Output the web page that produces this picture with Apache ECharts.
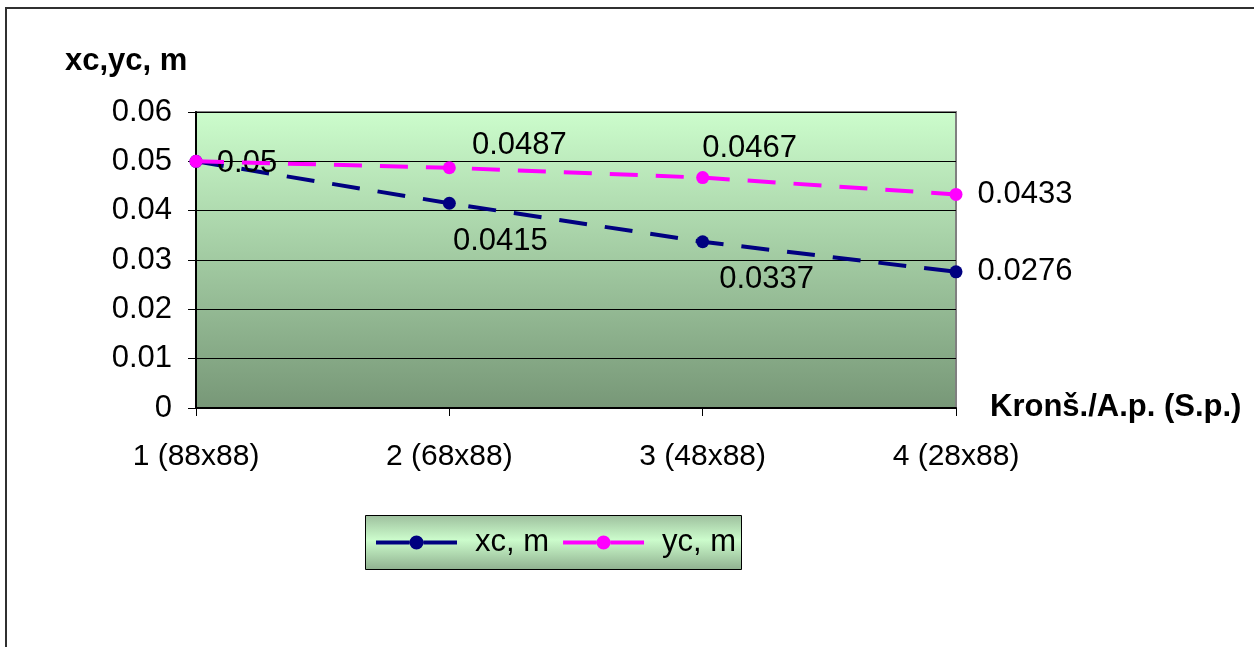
<!DOCTYPE html>
<html>
<head>
<meta charset="utf-8">
<script src="https://cdn.jsdelivr.net/npm/echarts@6/dist/echarts.min.js"></script>
<style>
  html, body { margin: 0; padding: 0; background: #fff; }
  #chart { width: 1254px; height: 647px; }
</style>
</head>
<body>
<div id="chart"></div>
<script>
// Bracket variants along the x axis
const categories = ['1 (88x88)', '2 (68x88)', '3 (48x88)', '4 (28x88)'];

// Centre coordinates, m
const xcValues = [0.05, 0.0415, 0.0337, 0.0276];
const ycValues = [0.05, 0.0487, 0.0467, 0.0433];

// Which points carry a value label
const xcShowLabel = [true, true, true, true];
const ycShowLabel = [false, true, true, true];

// Label offsets (px) from each marker centre to the label centre
const xcLabelOffsets = [[51, 2], [51, 38], [64, 38], [69, 0]];
const ycLabelOffsets = [[0, 0], [70, -22], [47, -29], [69, 0]];

const yTicks = { min: 0, max: 0.06, interval: 0.01 };

const FONT = 'Liberation Sans, Arial, sans-serif';
const FS = 31;

// Legend key: solid line with a round marker in the middle (81 x 14)
const LEGEND_ICON = 'path://M0,5H33.5V9H0Z M47.5,5H81V9H47.5Z ' +
  'M33.5,7a7,7 0 1,0 14,0a7,7 0 1,0 -14,0Z';

function pointData(values, show, offsets) {
  return values.map((v, i) => ({
    value: v,
    label: {
      show: show[i],
      position: 'inside',
      offset: offsets[i],
      formatter: String(v),
      color: '#000',
      fontFamily: FONT,
      fontSize: FS
    }
  }));
}

const chart = echarts.init(document.getElementById('chart'), null, { renderer: 'canvas' });

chart.setOption({
  animation: false,
  backgroundColor: '#ffffff',
  textStyle: { fontFamily: FONT },
  graphic: [
    {
      type: 'rect', z: 0, silent: true,
      shape: { x: 6, y: 8, width: 1400, height: 800 },
      style: { fill: 'none', stroke: '#303030', lineWidth: 2 }
    },
    {
      type: 'rect', z: 0, silent: true,
      shape: { x: 365.5, y: 515.5, width: 376, height: 54 },
      style: {
        stroke: '#000', lineWidth: 1,
        fill: new echarts.graphic.LinearGradient(0, 0, 0, 1, [
          { offset: 0, color: '#9dbf9d' },
          { offset: 0.45, color: '#ccfccc' },
          { offset: 1, color: '#8fb08f' }
        ])
      }
    },
    {
      type: 'text', z: 5, silent: true,
      left: 65, top: 46,
      style: { text: 'xc,yc, m', fontFamily: FONT, fontSize: FS, fontWeight: 'bold', fill: '#000' }
    },
    {
      type: 'text', z: 5, silent: true,
      left: 990, top: 392,
      style: { text: 'Kronš./A.p. (S.p.)', fontFamily: FONT, fontSize: FS, fontWeight: 'bold', fill: '#000' }
    }
  ],
  grid: {
    left: 196, top: 112, width: 760, height: 296,
    show: true,
    borderColor: '#808080',
    borderWidth: 2,
    backgroundColor: new echarts.graphic.LinearGradient(0, 0, 0, 1, [
      { offset: 0, color: '#ccfdcc' },
      { offset: 1, color: '#779777' }
    ])
  },
  legend: {
    z: 10,
    left: 371, top: 522,
    itemWidth: 81, itemHeight: 14,
    itemGap: 14,
    icon: LEGEND_ICON,
    textStyle: { fontFamily: FONT, fontSize: FS, color: '#000', padding: [0, 0, 0, 13] },
    data: ['xc, m', 'yc, m']
  },
  xAxis: {
    type: 'category',
    data: categories,
    boundaryGap: false,
    axisLine: { lineStyle: { color: '#000', width: 2 } },
    axisTick: { show: true, length: 8, lineStyle: { color: '#000', width: 1 }, alignWithLabel: true },
    axisLabel: { color: '#000', fontFamily: FONT, fontSize: 30, margin: 34 },
    splitLine: { show: false }
  },
  yAxis: {
    type: 'value',
    min: yTicks.min, max: yTicks.max, interval: yTicks.interval,
    axisLine: { show: true, lineStyle: { color: '#000', width: 2 } },
    axisTick: { show: true, length: 8, lineStyle: { color: '#000', width: 1 } },
    axisLabel: {
      color: '#000', fontFamily: FONT, fontSize: FS, margin: 24,
      formatter: v => (v === 0 ? '0' : v.toFixed(2))
    },
    splitLine: { show: true, lineStyle: { color: '#000', width: 1 } }
  },
  series: [
    {
      name: 'xc, m',
      type: 'line',
      data: pointData(xcValues, xcShowLabel, xcLabelOffsets),
      symbol: 'circle', symbolSize: 13,
      itemStyle: { color: '#000080' },
      lineStyle: { color: '#000080', width: 4, type: [28, 18] },
      z: 3
    },
    {
      name: 'yc, m',
      type: 'line',
      data: pointData(ycValues, ycShowLabel, ycLabelOffsets),
      symbol: 'circle', symbolSize: 13,
      itemStyle: { color: '#ff00ff' },
      lineStyle: { color: '#ff00ff', width: 4, type: [28, 18] },
      z: 4
    }
  ]
});
</script>
</body>
</html>
